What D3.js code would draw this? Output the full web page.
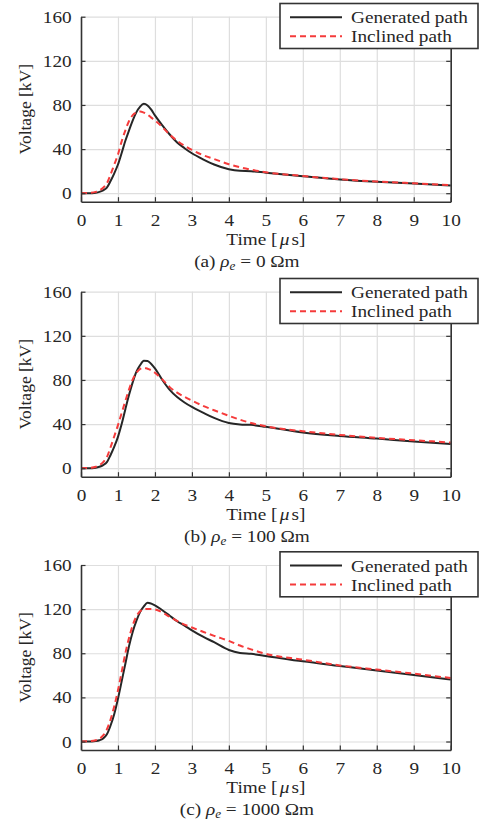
<!DOCTYPE html>
<html><head><meta charset="utf-8">
<script src="https://cdn.jsdelivr.net/npm/d3@7"></script>
<style>
html,body{margin:0;padding:0;background:#fff;}
svg text{font-family:"Liberation Serif","Times New Roman",Times,serif;fill:#262626;}
</style></head>
<body>
<svg id="chart" width="479" height="823"></svg>
<script>
// ---- data ----
const time = [0,0.2,0.4,0.5,0.6,0.7,0.8,0.9,1.0,1.1,1.2,1.3,1.4,1.5,1.6,1.7,1.8,1.9,2.0,2.2,2.4,2.6,2.8,3.0,3.3,3.6,4.0,4.3,4.6,5,6,7,8,9,10];

const genA = [0,0,0.5,1.2,2.6,5,11,18,26,36.5,47.5,57,66,73.5,78.5,81,79.5,75.7,70.5,61.5,53.2,46,40.8,36.2,30.7,26,21.7,20.3,20.0,18.6,15.4,12.4,10.3,8.8,7.0];
const incA = [0,0.2,1.2,2.5,5,9,17,26,35,47,57,65.5,70.8,73.2,74,73,71.3,68.5,66,60,53,47.5,43,39.3,34.5,31,26.3,23.5,21.3,19,15.6,12.7,10.6,9.0,7.4];

const genB = [0,0,0.5,1.3,2.8,5.5,12,19.5,28.4,40,53.5,66.5,78,87.5,93.5,97.3,97.2,94.5,90.5,80,71,64.5,59.6,55.5,50.4,45.6,41,39.7,39.3,37.5,32.4,29.3,26.9,24.2,22.0];
const incB = [0,0.2,1.3,2.8,5.5,10,19,29,39,50,61,71.5,80.5,86.5,90,91,90.2,88.8,86.5,80.5,73.5,68.5,64.7,61.3,56.5,52.5,47.5,44,41,38,33.5,30.2,27.5,25.4,23.3];

const genC = [0,0,0.5,1.2,2.8,6.5,14.5,25,38.8,54.5,70.5,86.5,99.5,109.5,117.5,122.5,125.8,125,123.5,119,114,109,105,100.8,95,90,83,80.3,79.5,77.6,72.7,68.5,64.3,60.3,56.1];
const incC = [0,0.2,1.2,2.5,5.5,11,20,32,46.4,63,80,94,105.5,113.5,118,119.8,120.2,120.2,119.8,117,113,109.3,106,103.3,99.5,95.8,91.2,87,83.5,79.5,74.2,69,65.2,61.5,57.5];

const xTicks = [0,1,2,3,4,5,6,7,8,9,10];
const yTicks = [0,40,80,120,160];
const seriesNames = ["Generated path","Inclined path"];
const captions = [["(a) ","0"],["(b) ","100"],["(c) ","1000"]];

// ---- layout ----
const svg = d3.select("#chart");
const W = 479, H = 823;
svg.append("rect").attr("width",W).attr("height",H).attr("fill","#fff");
const left = 81, right = 450.7, ph = 185;
const tops = [16.7, 291.7, 565];
const FS = 17.5, SX = 1.1;
const FF = "'Liberation Serif','Times New Roman',Times,serif";
const cBlack = "#262626", cRed = "#f53b3b", cGrid = "#dedede", cAxis = "#333";

const panels = [[genA,incA],[genB,incB],[genC,incC]];

const x = d3.scaleLinear().domain([0,10]).range([left,right]);

panels.forEach((pd, i) => {
  const top = tops[i], bottom = top + ph;
  const y = d3.scaleLinear().domain([-7.7,160]).range([bottom, top]);
  const g = svg.append("g");

  // grid
  g.append("g").attr("transform",`translate(0,${bottom})`)
    .call(d3.axisBottom(x).tickValues(xTicks).tickSize(-ph).tickFormat(""))
    .call(s=>{s.select(".domain").remove(); s.selectAll("line").attr("stroke",cGrid).attr("stroke-width",1.2);});
  g.append("g").attr("transform",`translate(${left},0)`)
    .call(d3.axisLeft(y).tickValues(yTicks).tickSize(-(right-left)).tickFormat(""))
    .call(s=>{s.select(".domain").remove(); s.selectAll("line").attr("stroke",cGrid).attr("stroke-width",1.2);});

  // lines
  const line = d3.line().x((d,k)=>x(time[k])).y(d=>y(d)).curve(d3.curveMonotoneX);
  g.append("path").datum(pd[0]).attr("d",line).attr("fill","none")
    .attr("stroke",cBlack).attr("stroke-width",2);
  g.append("path").datum(pd[1]).attr("d",line).attr("fill","none")
    .attr("stroke",cRed).attr("stroke-width",2).attr("stroke-dasharray","6,4");

  // axes
  const bx = g.append("g").attr("transform",`translate(0,${bottom})`)
    .call(d3.axisBottom(x).tickValues(xTicks).tickSize(-4.5).tickSizeOuter(0).tickPadding(11.6));
  const ly = g.append("g").attr("transform",`translate(${left},0)`)
    .call(d3.axisLeft(y).tickValues(yTicks).tickSize(-4.5).tickSizeOuter(0).tickPadding(8.5));
  const ry = g.append("g").attr("transform",`translate(${right},0)`)
    .call(d3.axisRight(y).tickValues(yTicks).tickSize(-4.5).tickSizeOuter(0).tickFormat(""));
  [bx,ly,ry].forEach(a=>{
    a.attr("font-family",FF);
    a.select(".domain").attr("stroke",cAxis).attr("stroke-width",1.6);
    a.selectAll(".tick line").attr("stroke",cAxis).attr("stroke-width",1.2);
    a.selectAll("text").attr("font-size",FS).attr("font-family",FF).attr("fill",cBlack)
      .attr("transform",`scale(${SX},1)`);
  });

  // x label
  const xl = g.append("text").attr("transform",`translate(${(left+right)/2},${bottom+43}) scale(${SX},1)`)
    .attr("text-anchor","middle").attr("font-size",FS).attr("font-family",FF);
  xl.append("tspan").text("Time [");
  xl.append("tspan").attr("font-style","italic").attr("dx",2).text("\u03bc");
  xl.append("tspan").attr("dx",2).text("s]");

  // y label
  g.append("text").attr("transform",`translate(31,${(top+bottom)/2}) rotate(-90)`)
    .attr("text-anchor","middle").attr("font-size",FS).attr("font-family",FF).text("Voltage [kV]");

  // caption
  const cap = g.append("text").attr("transform",`translate(${(left+right)/2 - 19},${bottom+65}) scale(${SX},1)`)
    .attr("text-anchor","middle").attr("font-size",FS).attr("font-family",FF);
  cap.append("tspan").text(captions[i][0]);
  cap.append("tspan").attr("font-style","italic").text("\u03c1");
  cap.append("tspan").attr("font-style","italic").attr("font-size",12).attr("dy",3).text("e");
  cap.append("tspan").attr("dy",-3).text(" = " + captions[i][1] + " \u03a9m");

  // legend
  const lg = g.append("g");
  lg.append("rect").attr("x",280).attr("y",top-13.2).attr("width",198).attr("height",45)
    .attr("fill","#fff").attr("stroke",cAxis).attr("stroke-width",1.6);
  [cBlack,cRed].forEach((c,k)=>{
    const ry0 = top + 0.5 + k*19;
    lg.append("line").attr("x1",290).attr("x2",342).attr("y1",ry0).attr("y2",ry0)
      .attr("stroke",c).attr("stroke-width",2).attr("stroke-dasharray",k?"6,4":null);
    lg.append("text").attr("transform",`translate(351,${ry0+6}) scale(${SX},1)`)
      .attr("font-size",FS).attr("font-family",FF).text(seriesNames[k]);
  });
});
</script>
</body></html>
